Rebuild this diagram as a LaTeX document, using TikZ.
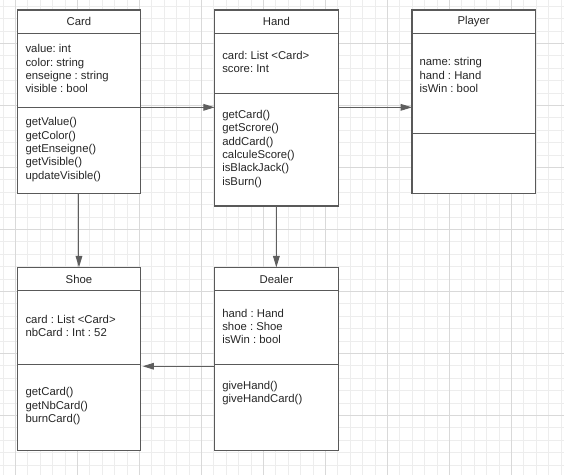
\documentclass[tikz,border=0pt]{standalone}
\usepackage{fontspec}
\setmainfont{Liberation Sans}
\frenchspacing
\usetikzlibrary{arrows.meta,positioning}
\definecolor{edge}{HTML}{5E5E5E}
\definecolor{frame}{HTML}{595959}
\definecolor{ink}{HTML}{262626}
\definecolor{gridmin}{HTML}{EDEDED}
\definecolor{gridmaj}{HTML}{D9D9D9}
\tikzset{
  classhead/.style={draw=frame,fill=white,line width=0.8pt,outer sep=0pt,minimum width=92.5pt,minimum height=17.5pt,inner sep=0pt,text=ink,font=\fontsize{8.5}{10}\selectfont},
  classpart/.style={draw=frame,fill=white,line width=0.8pt,outer sep=0pt,minimum width=92.5pt,inner sep=0pt,below=0pt of #1},
  members/.style={inner sep=0pt,align=left,text=ink,font=\fontsize{8.5}{10}\selectfont,anchor=west}
}

\begin{document}
\begin{tikzpicture}[x=0.75pt,y=-0.75pt,>={Triangle[length=8.5pt,width=5pt]}]
\useasboundingbox (0,0) rectangle (564,475);
% background grid
\foreach \i in {0,...,45} \draw[gridmin,line width=0.6pt] ({2.9+12.4*\i},0) -- ({2.9+12.4*\i},475);
\foreach \i in {0,...,37} \draw[gridmin,line width=0.6pt] (0,{6.1+12.4*\i}) -- (564,{6.1+12.4*\i});
\foreach \i in {0,...,8} \draw[gridmaj,line width=0.6pt] ({15.3+62*\i},0) -- ({15.3+62*\i},475);
\foreach \i in {0,...,6} \draw[gridmaj,line width=0.6pt] (0,{43.3+62*\i}) -- (564,{43.3+62*\i});

% Card
\node[classhead,anchor=north west] (cardhead) at (17.3,10) {Card};
\node[classpart=cardhead,minimum height=55.5pt] (cardattr) {};
\node[classpart=cardattr,minimum height=64.5pt] (cardmeth) {};
\node[members] (cardattrtext) at ([xshift=6pt,yshift=1.1pt]cardattr.west) {value: int\\color: string\\enseigne : string\\visible : bool};
\node[members] (cardmethtext) at ([xshift=6pt,yshift=0.5pt]cardmeth.west) {getValue()\\getColor()\\getEnseigne()\\getVisible()\\updateVisible()};

% Hand
\node[classhead,anchor=north west] (handhead) at (214.7,10) {Hand};
\node[classpart=handhead,minimum height=45pt] (handattr) {};
\node[classpart=handattr,minimum height=84.5pt] (handmeth) {};
\node[members] (handattrtext) at ([xshift=5.5pt,yshift=1.2pt]handattr.west) {card: List <Card>\\score: Int};
\node[members] (handmethtext) at ([xshift=5.5pt,yshift=0.6pt]handmeth.west) {getCard()\\getScrore()\\addCard()\\calculeScore()\\isBlackJack()\\isBurn()};

% Player
\node[classhead,anchor=north west] (playerhead) at (412,10) {Player};
\node[classpart=playerhead,minimum height=75pt] (playerattr) {};
\node[classpart=playerattr,minimum height=45pt] (playermeth) {};
\node[members] (playerattrtext) at ([xshift=5.5pt,yshift=6.2pt]playerattr.west) {name: string\\hand : Hand\\isWin : bool};

% Shoe
\node[classhead,anchor=north west] (shoehead) at (17.3,267.3) {Shoe};
\node[classpart=shoehead,minimum height=55.2pt] (shoeattr) {};
\node[classpart=shoeattr,minimum height=65pt] (shoemeth) {};
\node[members] (shoeattrtext) at ([xshift=6pt,yshift=1.3pt]shoeattr.west) {card : List <Card>\\nbCard : Int : 52};
\node[members] (shoemethtext) at ([xshift=6pt,yshift=1.1pt]shoemeth.west) {getCard()\\getNbCard()\\burnCard()};

% Dealer
\node[classhead,anchor=north west] (dealerhead) at (214.7,267.3) {Dealer};
\node[classpart=dealerhead,minimum height=55.5pt] (dealerattr) {};
\node[classpart=dealerattr,minimum height=64.7pt] (dealermeth) {};
\node[members] (dealerattrtext) at ([xshift=5.5pt,yshift=1pt]dealerattr.west) {hand : Hand\\shoe : Shoe\\isWin : bool};
\node[members] (dealermethtext) at ([xshift=5.5pt,yshift=10.9pt]dealermeth.west) {giveHand()\\giveHandCard()};

% links
\coordinate (dealerout) at ([yshift=-1.2pt]dealerattr.south west);
\draw[->,edge,line width=0.75pt] (cardattr.south east) -- (cardattr.south east -| handmeth.west);
\draw[->,edge,line width=0.75pt] (cardattr.south east -| handmeth.east) -- (cardattr.south east -| playerattr.west);
\draw[->,edge,line width=0.75pt] (cardmeth.south) -- (shoehead.north);
\draw[->,edge,line width=0.75pt] (handmeth.south) -- (dealerhead.north);
\draw[->,edge,line width=0.75pt,shorten >=1.5pt] (dealerout) -- (dealerout -| shoeattr.east);
\end{tikzpicture}
\end{document}
